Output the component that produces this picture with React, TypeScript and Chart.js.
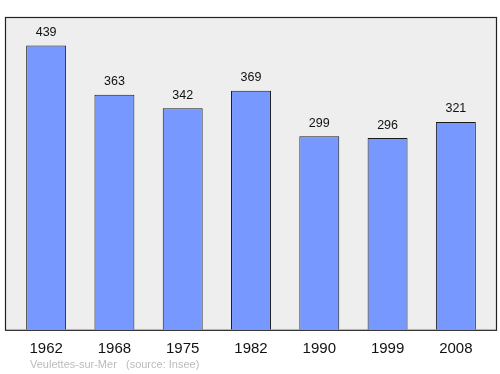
import React, { useEffect, useRef } from "react";
import { Chart, registerables } from "chart.js";

Chart.register(...registerables);

const years = ["1962", "1968", "1975", "1982", "1990", "1999", "2008"];
const population = [439, 363, 342, 369, 299, 296, 321];
const footerText = "Veulettes-sur-Mer   (source: Insee)";

const framePlugin = {
  id: "frame",
  beforeDraw(chart: any) {
    const { ctx, chartArea } = chart;
    ctx.save();
    ctx.fillStyle = "#eeeeee";
    ctx.fillRect(5, chartArea.top, 492, chartArea.bottom - chartArea.top);
    ctx.restore();
  },
  afterDatasetsDraw(chart: any) {
    const { ctx, chartArea } = chart;
    ctx.save();
    ctx.strokeStyle = "#222222";
    ctx.lineWidth = 1.2;
    ctx.strokeRect(5.5, chartArea.top + 0.5, 491, chartArea.bottom - chartArea.top);
    // value labels
    const meta = chart.getDatasetMeta(0);
    ctx.fillStyle = "#111111";
    ctx.font = "12.5px 'Liberation Sans', Arial, sans-serif";
    ctx.textAlign = "center";
    ctx.textBaseline = "middle";
    meta.data.forEach((bar: any, i: number) => {
      ctx.fillText(String(population[i]), bar.x, bar.y - 13);
    });
    // footer
    ctx.fillStyle = "#bbbbbb";
    ctx.font = "11px 'Liberation Sans', Arial, sans-serif";
    ctx.textAlign = "left";
    ctx.fillText(footerText, 30, 365);
    ctx.restore();
  },
};

export default function App() {
  const ref = useRef<HTMLCanvasElement>(null);
  useEffect(() => {
    const chart = new Chart(ref.current!, {
      type: "bar",
      data: {
        labels: years,
        datasets: [
          {
            data: population,
            backgroundColor: "#7799ff",
            borderColor: "#1a1a1a",
            borderWidth: 1,
            barPercentage: 0.585,
            categoryPercentage: 1,
          },
        ],
      },
      options: {
        animation: false,
        responsive: false,
        layout: { padding: { left: 12, right: 10, top: 17, bottom: 14.2 } },
        plugins: { legend: { display: false }, tooltip: { enabled: false } },
        scales: {
          x: {
            grid: { display: false },
            border: { display: false },
            ticks: {
              color: "#111111",
              font: { size: 15, family: "'Liberation Sans', Arial, sans-serif" },
              padding: 2,
            },
          },
          y: { display: false, min: 0, max: 483 },
        },
      },
      plugins: [framePlugin],
    });
    return () => chart.destroy();
  }, []);
  return (
    <div style={{ position: "absolute", left: 0, top: 0, width: 500, height: 374, background: "#ffffff" }}>
      <canvas ref={ref} width={500} height={374} />
    </div>
  );
}
